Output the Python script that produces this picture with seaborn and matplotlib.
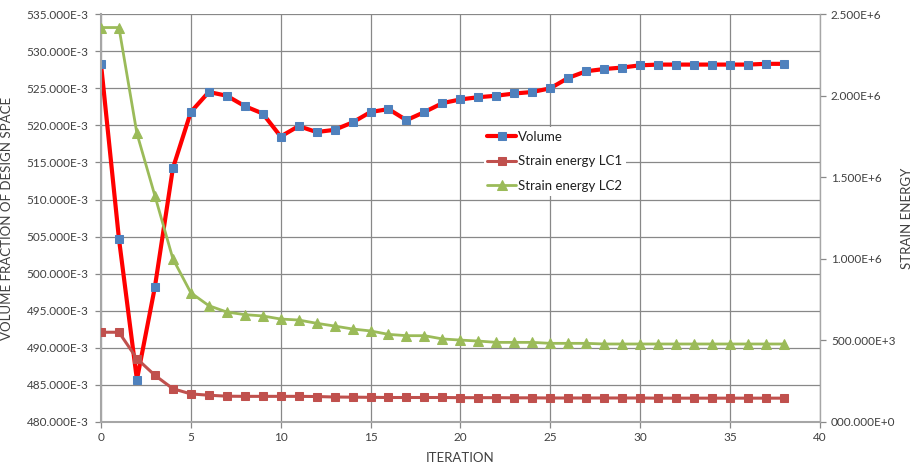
import matplotlib
matplotlib.use("Agg")
import matplotlib.pyplot as plt
from matplotlib.ticker import FuncFormatter, MultipleLocator
import seaborn as sns

iterations = list(range(39))

# volume fraction (left axis)
volume = [
    0.5283, 0.5047, 0.4857, 0.4982, 0.5142, 0.5218, 0.5245, 0.5240, 0.5226, 0.5216,
    0.5185, 0.5199, 0.5191, 0.5194, 0.5204, 0.5218, 0.5222, 0.5207, 0.5218, 0.5230,
    0.5235, 0.5238, 0.5240, 0.5243, 0.5245, 0.5250, 0.5264, 0.5273, 0.5276, 0.5278,
    0.5281, 0.5282, 0.5282, 0.5282, 0.5282, 0.5282, 0.5282, 0.5283, 0.5283,
]

# strain energy (right axis)
strain_lc1 = [
    550e3, 550e3, 388e3, 286e3, 204e3, 172e3, 164e3, 158e3, 157e3, 157e3,
    157e3, 157e3, 156e3, 153e3, 152e3, 151e3, 150e3, 150e3, 150e3, 150e3,
    149e3, 149e3, 149e3, 148e3, 148e3, 147e3, 147e3, 147e3, 147e3, 147e3,
    147e3, 146e3, 146e3, 146e3, 146e3, 146e3, 146e3, 146e3, 146e3,
]
strain_lc2 = [
    2418e3, 2418e3, 1769e3, 1387e3, 1001e3, 792e3, 713e3, 674e3, 658e3, 650e3,
    631e3, 625e3, 605e3, 588e3, 570e3, 558e3, 537e3, 529e3, 529e3, 509e3,
    502e3, 496e3, 488e3, 488e3, 488e3, 482e3, 482e3, 482e3, 478e3, 478e3,
    478e3, 478e3, 478e3, 478e3, 478e3, 478e3, 478e3, 478e3, 478e3,
]

sns.set_theme(style="white")
plt.rcParams["font.family"] = ["Lato", "DejaVu Sans"]

grey = "#888888"
text_c = "#404040"

fig = plt.figure(figsize=(9.18, 4.72), dpi=100)
ax = fig.add_axes([0.110, 0.106, 0.783, 0.864])
ax2 = ax.twinx()

sns.lineplot(x=iterations, y=volume, ax=ax, color="#FF0000", linewidth=3,
             marker="s", markersize=5.5, markerfacecolor="#4F81BD",
             markeredgecolor="#4F81BD", label="Volume", legend=False)
sns.lineplot(x=iterations, y=strain_lc1, ax=ax2, color="#C0504D", linewidth=2.2,
             marker="s", markersize=6, markerfacecolor="#C0504D",
             markeredgecolor="#C0504D", label="Strain energy LC1", legend=False)
sns.lineplot(x=iterations, y=strain_lc2, ax=ax2, color="#9BBB59", linewidth=2,
             marker="^", markersize=7, markerfacecolor="#9BBB59",
             markeredgecolor="#9BBB59", label="Strain energy LC2", legend=False)

ax.set_xlim(0, 40)
ax.set_ylim(0.480, 0.535)
ax2.set_ylim(0, 2.5e6)
ax.xaxis.set_major_locator(MultipleLocator(5))
ax.yaxis.set_major_locator(MultipleLocator(0.005))
ax2.yaxis.set_major_locator(MultipleLocator(0.5e6))

ax.yaxis.set_major_formatter(FuncFormatter(lambda v, p: f"{v * 1000:.3f}E-3"))


def eng_fmt(v, p):
    if v >= 1e6:
        return f"{v / 1e6:.3f}E+6"
    if v > 0:
        return f"{v / 1e3:.3f}E+3"
    return "000.000E+0"


ax2.yaxis.set_major_formatter(FuncFormatter(eng_fmt))

ax.grid(True, color=grey, linewidth=0.9)
ax2.grid(False)
for a in (ax, ax2):
    for s in a.spines.values():
        s.set_visible(False)
    a.tick_params(colors=text_c, labelsize=8.5, length=4, color=grey, width=0.9)
ax.spines["left"].set_visible(True)
ax.spines["left"].set_color("#A6A6A6")
ax.spines["left"].set_linewidth(1.5)
ax.spines["bottom"].set_visible(True)
ax.spines["bottom"].set_color("#A6A6A6")
ax.spines["bottom"].set_linewidth(1.5)
ax2.spines["right"].set_visible(True)
ax2.spines["right"].set_color("#A6A6A6")
ax2.spines["right"].set_linewidth(1.0)
ax.tick_params(axis="both", which="both", left=True, bottom=True, direction="out")
ax.tick_params(axis="y", pad=5)
ax2.tick_params(axis="y", right=True, direction="out", pad=4)

lab_kw = dict(fontsize=9.5, color=text_c)
ax.set_xlabel("ITERATION", labelpad=6, **lab_kw)
ax.set_ylabel("VOLUME FRACTION OF DESIGN SPACE", labelpad=10, **lab_kw)
ax2.set_ylabel("STRAIN ENERGY", labelpad=4, **lab_kw)

handles = ax.get_lines()[:1] + ax2.get_lines()[:2]
leg = ax2.legend(handles, [h.get_label() for h in handles],
                 loc="upper left", bbox_to_anchor=(0.523, 0.74), fontsize=9.5,
                 frameon=True, facecolor="white", edgecolor="none", framealpha=1,
                 handlelength=2.2, handletextpad=0.1, labelspacing=0.95,
                 borderpad=0.3, fancybox=False)
for t in leg.get_texts():
    t.set_color("#202020")

fig.savefig("out.png", dpi=100)
